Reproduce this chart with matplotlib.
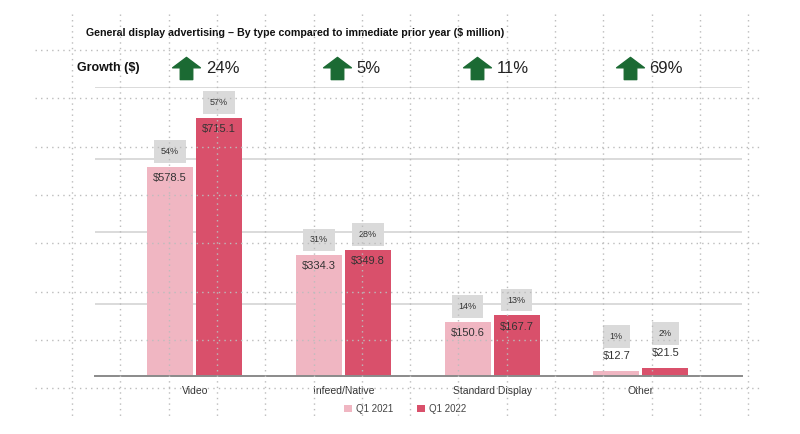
import matplotlib
matplotlib.use("Agg")
import matplotlib.pyplot as plt
import numpy as np
from matplotlib.path import Path
from matplotlib.lines import Line2D

plt.rcParams['font.family'] = ['Liberation Sans', 'DejaVu Sans']

categories = ["Video", "Infeed/Native", "Standard Display", "Other"]
q1_2021 = [578.5, 334.3, 150.6, 12.7]
q1_2022 = [715.1, 349.8, 167.7, 21.5]
share_2021 = ["54%", "31%", "14%", "1%"]
share_2022 = ["57%", "28%", "13%", "2%"]
growth = ["24%", "5%", "11%", "69%"]
series_names = ["Q1 2021", "Q1 2022"]

col_2021 = "#f0b6c2"
col_2022 = "#d9506b"
green = "#1b6a33"

W, H = 800, 434
fig = plt.figure(figsize=(W / 100, H / 100), dpi=100)
ax = fig.add_axes([95 / W, 1 - 376 / H, (742 - 95) / W, (376 - 87) / H])

x = np.arange(len(categories))
bw = 0.31
off = 0.165
b1 = ax.bar(x - off, q1_2021, bw, color=col_2021, label=series_names[0], zorder=2)
b2 = ax.bar(x + off, q1_2022, bw, color=col_2022, label=series_names[1], zorder=2)

ax.set_xlim(-0.67, 3.68)
ax.set_ylim(0, 800)
ax.set_yticks([200, 400, 600, 800])
ax.yaxis.grid(True, color="#d4d4d4", linewidth=1.2, zorder=0)
ax.set_axisbelow(True)
ax.tick_params(left=False, labelleft=False, bottom=False, labelsize=7.5, pad=4)
ax.set_xticks(x)
ax.set_xticklabels(categories, color="#333333")
for s in ["top", "left", "right"]:
    ax.spines[s].set_visible(False)
ax.spines["bottom"].set_color("#8a8a8a")
ax.spines["bottom"].set_linewidth(1.4)

# value and share labels
for bars, vals, shares in [(b1, q1_2021, share_2021), (b2, q1_2022, share_2022)]:
    for b, v, s in zip(bars, vals, shares):
        cx = b.get_x() + b.get_width() / 2
        if v > 100:
            ax.annotate(f"${v}", (cx, v), xytext=(0, -8), textcoords="offset points",
                        ha="center", va="center", fontsize=8, color="#333333", zorder=4)
            pct_off = 11
        else:
            ax.annotate(f"${v}", (cx, v), xytext=(0, 11), textcoords="offset points",
                        ha="center", va="center", fontsize=8, color="#333333", zorder=4)
            pct_off = 25
        ax.annotate(s, (cx, v), xytext=(0, pct_off), textcoords="offset points",
                    ha="center", va="center", fontsize=6.5, color="#333333", zorder=4,
                    bbox=dict(boxstyle="square,pad=0.75", fc="#dadada", ec="none"))

# growth row
arrow = Path([(-0.45, -0.8), (0.45, -0.8), (0.45, 0.05), (1, 0.05), (0, 0.8),
              (-1, 0.05), (-0.45, 0.05), (-0.45, -0.8)], closed=True)
arrow_dx = [-0.055, -0.04, -0.10, -0.075]
gy = 852
for xi, g, d in zip(x, growth, arrow_dx):
    ax.plot([xi + d], [gy], marker=arrow, markersize=20, color=green, clip_on=False,
            linestyle="none", zorder=4)
    ax.annotate(g, (xi + d, gy), xytext=(14, 0), textcoords="offset points",
                ha="left", va="center", fontsize=12, color="#222222", annotation_clip=False)

fig.text(77 / W, 1 - 68 / H, "Growth ($)", fontsize=9, fontweight="bold",
         ha="left", va="center", color="#111111")
fig.text(86 / W, 1 - 33 / H,
         "General display advertising \u2013 By type compared to immediate prior year ($ million)",
         fontsize=7.7, fontweight="bold", ha="left", va="center", color="#111111")

leg = fig.legend(handles=[b1, b2], labels=series_names, loc="center", ncol=2,
                 bbox_to_anchor=(405 / W, 1 - 409 / H), frameon=False, fontsize=7,
                 handlelength=0.8, handleheight=0.8, columnspacing=2.5, handletextpad=0.4)
for t in leg.get_texts():
    t.set_color("#444444")

# dotted background grid of the slide
vx = 72 + 48.3 * np.arange(15)
hy = 50 + 48.3 * np.arange(8)
for xv in vx:
    fig.add_artist(Line2D([xv / W, xv / W], [1 - 14 / H, 1 - 416 / H], color="#bcbcbc",
                          linestyle=(0, (1, 3)), linewidth=1, zorder=10))
for yv in hy:
    fig.add_artist(Line2D([35 / W, 762 / W], [1 - yv / H, 1 - yv / H], color="#bcbcbc",
                          linestyle=(0, (1, 3)), linewidth=1, zorder=10))

fig.savefig("out.png", dpi=100)
